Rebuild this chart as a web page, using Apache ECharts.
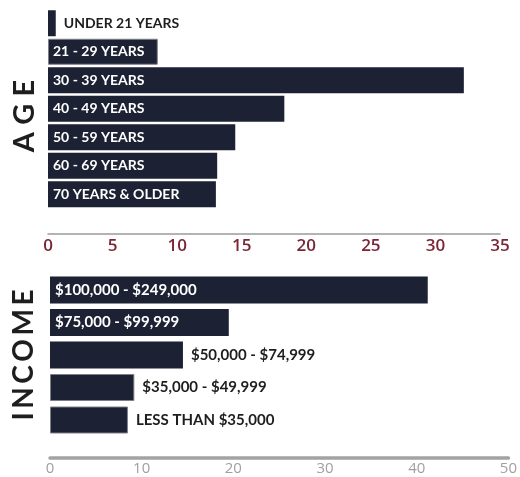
<!DOCTYPE html>
<html>
<head>
<meta charset="utf-8">
<script src="https://cdn.jsdelivr.net/npm/echarts@6/dist/echarts.min.js"></script>
<style>
html,body{margin:0;padding:0;background:#fff;}
#c{width:520px;height:477px;}
</style>
</head>
<body>
<div id="c"></div>
<script>
const ageCategories = ['UNDER 21 YEARS','21 - 29 YEARS','30 - 39 YEARS','40 - 49 YEARS','50 - 59 YEARS','60 - 69 YEARS','70 YEARS & OLDER'];
const ageValues = [0.6, 8.5, 32.2, 18.3, 14.5, 13.1, 13.0];
const ageTicks = [0, 5, 10, 15, 20, 25, 30, 35];

const incomeCategories = ['$100,000 - $249,000','$75,000 - $99,999','$50,000 - $74,999','$35,000 - $49,999','LESS THAN $35,000'];
const incomeValues = [41.2, 19.5, 14.5, 9.2, 8.5];
const incomeTicks = [0, 10, 20, 30, 40, 50];

const ageTitle = 'AGE';
const incomeTitle = 'INCOME';

const ageOutside = [0];
const incomeOutside = [2, 3, 4];
const ageBordered = [1];
const incomeBordered = [3, 4];

const BAR = '#1c2133';
const FONT = 'Lato, "Noto Sans", sans-serif';

function spaced(s, sp) { return s.split('').join(sp); }

function buildData(vals, outside, bordered) {
  return vals.map((v, i) => {
    const out = outside.indexOf(i) >= 0;
    const item = {
      value: v,
      label: out ? {
        position: 'right', distance: 8, color: '#1e1e1e'
      } : {
        position: 'insideLeft', distance: 5, color: '#ffffff'
      }
    };
    if (bordered.indexOf(i) >= 0) {
      item.itemStyle = { borderColor: '#7d808a', borderWidth: 1 };
    }
    return item;
  });
}

const chart = echarts.init(document.getElementById('c'), null, {renderer: 'canvas'});
chart.setOption({
  animation: false,
  backgroundColor: '#ffffff',
  grid: [
    {left: 48, right: 20, top: 9, height: 199.5},
    {left: 50, right: 10, top: 273.75, height: 162.5}
  ],
  xAxis: [
    {
      gridIndex: 0, type: 'value', min: ageTicks[0], max: ageTicks[ageTicks.length - 1],
      interval: ageTicks[1] - ageTicks[0], offset: 25.5,
      splitLine: {show: false}, axisTick: {show: false},
      axisLine: {show: true, lineStyle: {color: '#9a9a9a', width: 1.5}},
      axisLabel: {color: '#7a2637', fontSize: 17, fontFamily: '"Open Sans", sans-serif', fontWeight: 600, margin: 4}
    },
    {
      gridIndex: 1, type: 'value', min: incomeTicks[0], max: incomeTicks[incomeTicks.length - 1],
      interval: incomeTicks[1] - incomeTicks[0], offset: 21,
      splitLine: {show: false}, axisTick: {show: false},
      axisLine: {show: true, lineStyle: {color: '#a3a3a3', width: 3.5}},
      axisLabel: {color: '#a0a0a0', fontSize: 15, fontFamily: '"Open Sans", sans-serif', margin: 4}
    }
  ],
  yAxis: [
    {
      gridIndex: 0, type: 'category', data: ageCategories, inverse: true,
      axisLine: {show: false}, axisTick: {show: false}, axisLabel: {show: false}
    },
    {
      gridIndex: 1, type: 'category', data: incomeCategories, inverse: true,
      axisLine: {show: false}, axisTick: {show: false}, axisLabel: {show: false}
    }
  ],
  graphic: [
    {type: 'text', rotation: Math.PI / 2, x: 25, y: 116,
     style: {text: spaced(ageTitle, '\u2005'), font: 'bold 29px ' + FONT, fill: '#1e1e1e', textAlign: 'center', textVerticalAlign: 'middle'}},
    {type: 'text', rotation: Math.PI / 2, x: 24, y: 355,
     style: {text: spaced(incomeTitle, '\u2009'), font: 'bold 28px ' + FONT, fill: '#1e1e1e', textAlign: 'center', textVerticalAlign: 'middle'}}
  ],
  series: [
    {
      type: 'bar', xAxisIndex: 0, yAxisIndex: 0, barWidth: 26,
      itemStyle: {color: BAR},
      label: {show: true, formatter: p => ageCategories[p.dataIndex], fontFamily: FONT, fontWeight: 'bold', fontSize: 14},
      data: buildData(ageValues, ageOutside, ageBordered)
    },
    {
      type: 'bar', xAxisIndex: 1, yAxisIndex: 1, barWidth: 27,
      itemStyle: {color: BAR},
      label: {show: true, formatter: p => incomeCategories[p.dataIndex], fontFamily: FONT, fontWeight: 'bold', fontSize: 15},
      data: buildData(incomeValues, incomeOutside, incomeBordered)
    }
  ]
});
</script>
</body>
</html>
